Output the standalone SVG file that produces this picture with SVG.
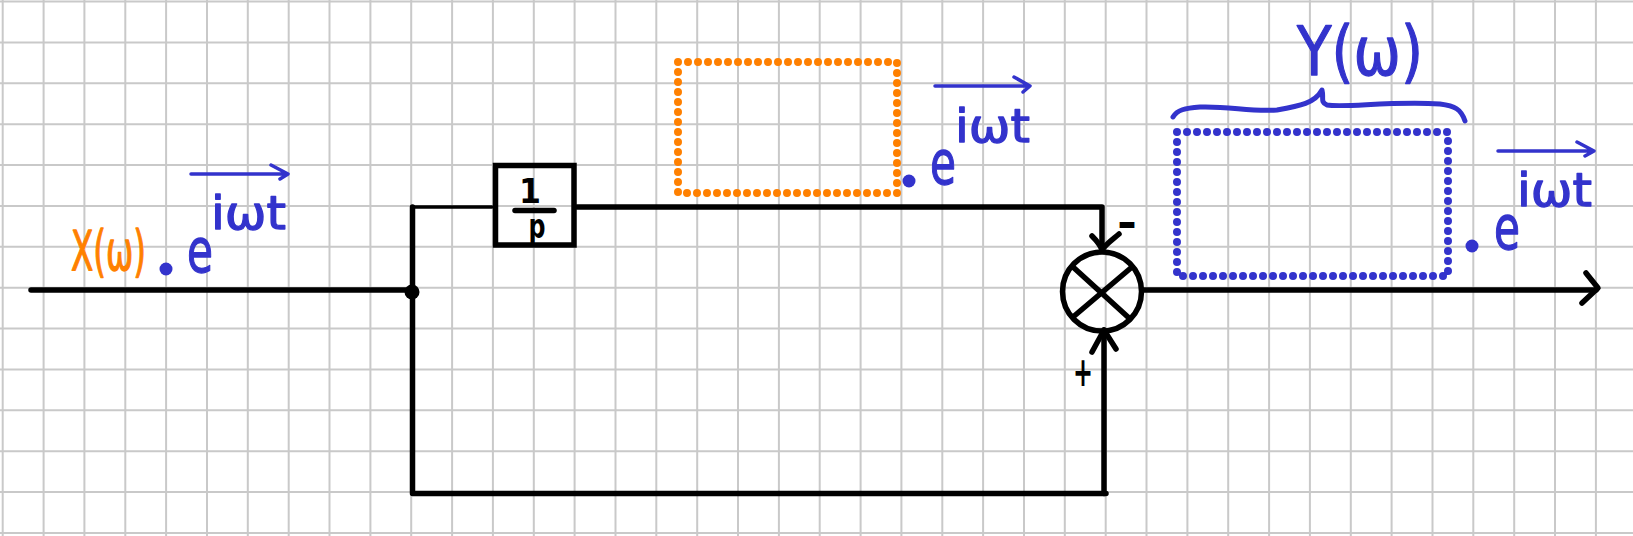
<svg xmlns="http://www.w3.org/2000/svg" width="1633" height="536" viewBox="0 0 1633 536">
<style>
.grid{fill:none;stroke:#c9c9c9;stroke-width:2}
.k{fill:none;stroke:#000;stroke-linecap:round;stroke-linejoin:round;stroke-width:5.5}
.thin{stroke-width:3.5}
.b{fill:none;stroke:#3333cc;stroke-linecap:round;stroke-linejoin:round;stroke-width:3.5}
.dots{fill:none;stroke-width:8;stroke-linecap:round;stroke-dasharray:0 10}
.t{font-family:"DejaVu Sans",sans-serif}
.blue{fill:#3333cc}
.tb{fill:#3333cc;stroke:#3333cc;stroke-width:1.3;stroke-linejoin:round}
.to{fill:#ff8000;stroke:#ff8000;stroke-width:1.3;stroke-linejoin:round}
.e{font-size:60px}
.exp{font-size:47px}
</style>
<rect width="1633" height="536" fill="#fff"/>
<path class="grid" d="M2.7 0V536M43.6 0V536M84.4 0V536M125.3 0V536M166.1 0V536M207 0V536M247.8 0V536M288.7 0V536M329.5 0V536M370.4 0V536M411.2 0V536M452.1 0V536M492.9 0V536M533.8 0V536M574.6 0V536M615.5 0V536M656.3 0V536M697.2 0V536M738 0V536M778.9 0V536M819.7 0V536M860.6 0V536M901.4 0V536M942.3 0V536M983.1 0V536M1024 0V536M1064.8 0V536M1105.7 0V536M1146.5 0V536M1187.4 0V536M1228.2 0V536M1269.1 0V536M1309.9 0V536M1350.8 0V536M1391.6 0V536M1432.5 0V536M1473.3 0V536M1514.2 0V536M1555 0V536M1595.9 0V536M0 1.6H1633M0 42.5H1633M0 83.3H1633M0 124.2H1633M0 165.1H1633M0 206H1633M0 246.8H1633M0 287.7H1633M0 328.6H1633M0 369.4H1633M0 410.3H1633M0 451.2H1633M0 492H1633M0 532.9H1633"/>
<g id="connectors">
<path class="k" d="M31 290H412.500"/>
<path class="k" d="M412.500 207V493.500H1106"/>
<path class="k thin" d="M412.500 207H492"/>
<path class="k" d="M577 207H1102V250"/>
<path class="k" d="M1092 236C1096 240 1100 244 1102 250C1106 244 1112 240 1119 234"/>
<path class="k" d="M1104 493.500V330"/>
<path class="k" d="M1092 352L1104 330L1116 349"/>
<path class="k" d="M1143 290H1596"/>
<path class="k" d="M1586 273L1598 288L1582 303"/>
<circle cx="412" cy="292" r="7.500"/>
</g>
<g id="block">
<rect class="k" x="495.500" y="165.500" width="78.500" height="79.500" style="stroke-linecap:butt;stroke-linejoin:miter"/>
<text class="t" x="530" y="203" font-size="34" font-weight="bold" text-anchor="middle" textLength="22" lengthAdjust="spacingAndGlyphs">1</text>
<path class="k" d="M515 210.500H554"/>
<text class="t" x="537" y="238" font-size="34" font-weight="bold" text-anchor="middle" textLength="17" lengthAdjust="spacingAndGlyphs">p</text>
</g>
<g id="sum">
<circle class="k" cx="1102" cy="291.500" r="39.500"/>
<path class="k" d="M1073 267L1129 318M1073 317L1132 267"/>
</g>
<g id="minus"><text class="t" x="1127" y="237" font-size="42" font-weight="bold" text-anchor="middle" textLength="20" lengthAdjust="spacingAndGlyphs">-</text></g>
<g id="plus"><text class="t" x="1083" y="386" font-size="40" font-weight="bold" text-anchor="middle" textLength="20" lengthAdjust="spacingAndGlyphs">+</text></g>
<g id="input-label">
<text class="t to" x="71" y="270" font-size="56" textLength="75" lengthAdjust="spacingAndGlyphs">X(ω)</text>
<circle class="blue" cx="166" cy="269" r="6.500"/>
<text class="t tb e" x="187" y="272" textLength="26" lengthAdjust="spacingAndGlyphs">e</text>
<text class="t tb exp" x="211" y="229" textLength="75" lengthAdjust="spacingAndGlyphs">iωt</text>
<path class="b" d="M191 174H287M271 165L288 174L280 179"/>
</g>
<g id="orange-box">
<path class="dots" stroke="#ff8000" d="M678 62H897V193H678Z"/>
<circle class="blue" cx="909" cy="181" r="6.500"/>
<text class="t tb e" x="930" y="184" textLength="26" lengthAdjust="spacingAndGlyphs">e</text>
<text class="t tb exp" x="955" y="142" textLength="75" lengthAdjust="spacingAndGlyphs">iωt</text>
<path class="b" d="M935 86H1029M1014 77L1030 86L1023 92"/>
</g>
<g id="blue-box">
<path class="dots" stroke="#3333cc" d="M1177 132H1448V276H1177Z"/>
<circle class="blue" cx="1472" cy="246" r="6.500"/>
<text class="t tb e" x="1494" y="249" textLength="26" lengthAdjust="spacingAndGlyphs">e</text>
<text class="t tb exp" x="1517" y="206" textLength="75" lengthAdjust="spacingAndGlyphs">iωt</text>
<path class="b" d="M1498 151H1593M1577 142L1594 151L1585 156"/>
</g>
<g id="output-label">
<path class="b" style="stroke-width:5" d="M1173 117C1177 110 1185 108 1200 107C1230 106 1250 112 1277 110C1300 106 1315 103 1322 90C1324 98 1320 102 1327 105C1345 108 1390 101 1440 104C1455 106 1461 109 1465 121"/>
<text class="t tb" x="1297" y="75" font-size="68" textLength="126" lengthAdjust="spacingAndGlyphs">Y(ω)</text>
</g>
</svg>
